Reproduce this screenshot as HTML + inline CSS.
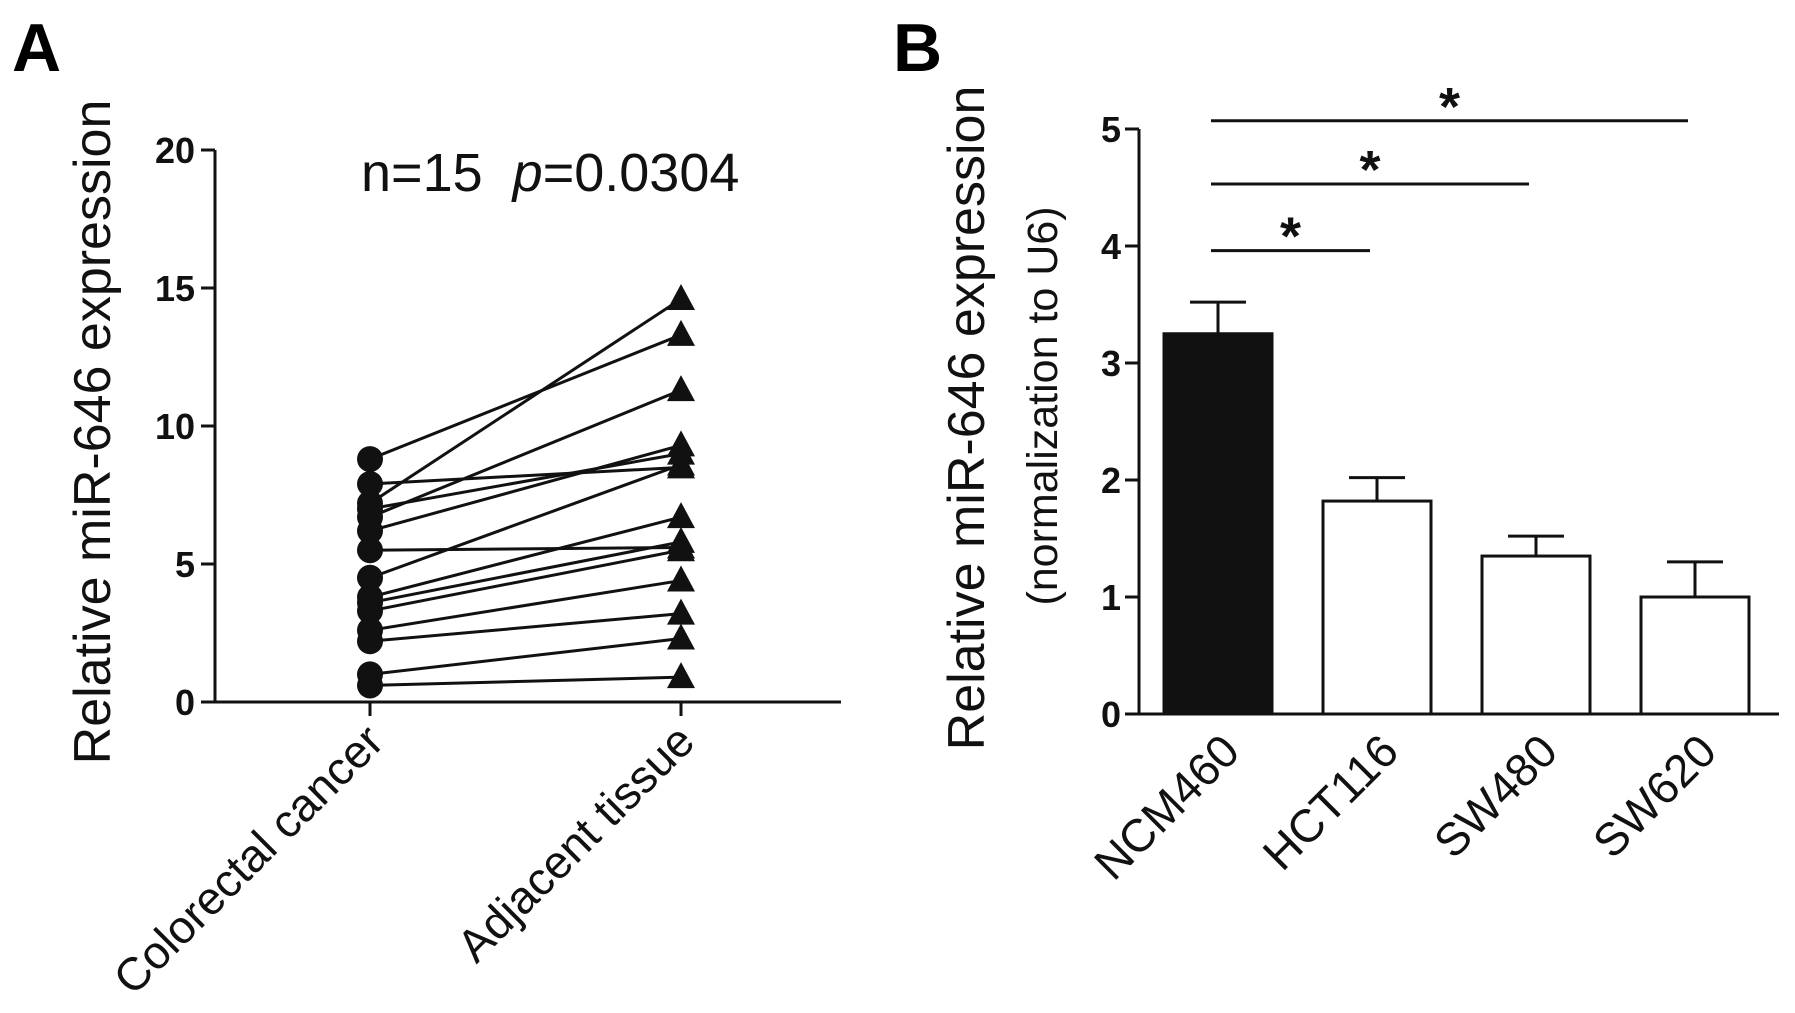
<!DOCTYPE html>
<html><head><meta charset="utf-8"><style>
html,body{margin:0;padding:0;background:#fff}
svg{display:block;font-family:"Liberation Sans",Arial,sans-serif}
</style></head><body>
<svg id="c" width="1795" height="1013" viewBox="0 0 1795 1013">
<text x="12" y="71" font-size="68" font-weight="bold">A</text>
<text x="893" y="71" font-size="68" font-weight="bold">B</text>
<g id="ga"></g>
<g id="gb"></g>
</svg>
<script>
// Panel A data
const aCategories = ["Colorectal cancer", "Adjacent tissue"];
const aCancer =   [8.8, 7.2, 7.9, 7.0, 6.7, 5.5, 6.2, 4.5, 3.8, 3.6, 3.3, 2.6, 2.2, 1.0, 0.6];
const aAdjacent = [13.3, 14.6, 8.5, 9.0, 11.3, 5.6, 9.3, 8.6, 6.7, 5.8, 5.5, 4.4, 3.2, 2.3, 0.9];
const aTicks = [0, 5, 10, 15, 20];
// Panel B data
const bCategories = ["NCM460", "HCT116", "SW480", "SW620"];
const bMeans = [3.25, 1.82, 1.35, 1.0];
const bErrors = [0.27, 0.2, 0.17, 0.3];
const bTicks = [0, 1, 2, 3, 4, 5];
const bSigTo = [1, 2, 3];
const bSigLevel = [3.96, 4.53, 5.07];

const NS = "http://www.w3.org/2000/svg";
function mk(parent, tag, attrs, text){
  const e = document.createElementNS(NS, tag);
  for (const k in attrs) e.setAttribute(k, attrs[k]);
  if (text !== undefined) e.textContent = text;
  parent.appendChild(e);
  return e;
}
const ga = document.getElementById('ga');
const gb = document.getElementById('gb');

// ---------- Panel A ----------
const aX0 = 215, aX1 = 841, aY0 = 702, aY1 = 150;
const aMax = 20;
const ay = v => aY0 - (v / aMax) * (aY0 - aY1);
const ax = i => [370, 681][i];
let e;
e = mk(ga, 'line', {x1:aX0, y1:aY1, x2:aX0, y2:aY0, stroke:'#111', 'stroke-width':3});


e = mk(ga, 'line', {x1:aX0, y1:aY0, x2:aX1, y2:aY0, stroke:'#111', 'stroke-width':3});


aTicks.forEach(t => {
  e = mk(ga, 'line', {x1:aX0 - 14, y1:ay(t), x2:aX0, y2:ay(t), stroke:'#111', 'stroke-width':3});
  
  
  e = mk(ga, 'text', {x:aX0 - 20, y:ay(t) + 13, 'font-size':36, 'font-weight':'bold', 'text-anchor':'end', fill:'#111'}, String(t));
  
  
});
aCategories.forEach((c, i) => {
  e = mk(ga, 'line', {x1:ax(i), y1:aY0, x2:ax(i), y2:aY0 + 14, stroke:'#111', 'stroke-width':3});
  
  
  e = mk(ga, 'text', {x:0, y:0, 'font-size':46, 'text-anchor':'end', fill:'#111', transform:`translate(${ax(i) + 16},${aY0 + 42}) rotate(-45)`}, c);
  
  
});
e = mk(ga, 'text', {x:0, y:0, 'font-size':52, 'text-anchor':'middle', fill:'#111', transform:`translate(110,432) rotate(-90)`}, 'Relative miR-646 expression');


e = mk(ga, 'text', {x:361, y:191, 'font-size':54, fill:'#111'});


e.innerHTML = 'n=15&#160;&#160;<tspan font-style="italic">p</tspan>=0.0304';
aCancer.forEach((v, i) => {
  e = mk(ga, 'line', {x1:ax(0), y1:ay(v), x2:ax(1), y2:ay(aAdjacent[i]), stroke:'#111', 'stroke-width':3});
  
  
});
aCancer.forEach(v => {
  e = mk(ga, 'circle', {cx:ax(0), cy:ay(v), r:13, fill:'#111'});
  
  
});
aAdjacent.forEach(v => {
  const x = ax(1), y = ay(v);
  e = mk(ga, 'polygon', {points:`${x},${y-15} ${x-14},${y+11} ${x+14},${y+11}`, fill:'#111'});
  
  
});

// ---------- Panel B ----------
const bX0 = 1139, bX1 = 1779, bY0 = 714, bY1 = 129, bMax = 5;
const by = v => bY0 - (v / bMax) * (bY0 - bY1);
const bx = i => 1218 + i * 159;
const bw = 108;
bMeans.forEach((m, i) => {
  const top = by(m + bErrors[i]);
  e = mk(gb, 'line', {x1:bx(i), y1:by(m), x2:bx(i), y2:top, stroke:'#111', 'stroke-width':3});
  
  
  e = mk(gb, 'line', {x1:bx(i) - 28, y1:top, x2:bx(i) + 28, y2:top, stroke:'#111', 'stroke-width':3});
  
  
  e = mk(gb, 'rect', {x:bx(i) - bw/2, y:by(m), width:bw, height:bY0 - by(m), fill: i === 0 ? '#111' : '#fff', stroke:'#111', 'stroke-width':3});
  
  
  e = mk(gb, 'text', {x:0, y:0, 'font-size':46, 'text-anchor':'end', fill:'#111', transform:`translate(${bx(i) + 24},${bY0 + 40}) rotate(-45)`}, bCategories[i]);
  
  
});
e = mk(gb, 'line', {x1:bX0, y1:bY1, x2:bX0, y2:bY0, stroke:'#111', 'stroke-width':3});


e = mk(gb, 'line', {x1:bX0, y1:bY0, x2:bX1, y2:bY0, stroke:'#111', 'stroke-width':3});


bTicks.forEach(t => {
  e = mk(gb, 'line', {x1:bX0 - 14, y1:by(t), x2:bX0, y2:by(t), stroke:'#111', 'stroke-width':3});
  
  
  e = mk(gb, 'text', {x:bX0 - 18, y:by(t) + 13, 'font-size':36, 'font-weight':'bold', 'text-anchor':'end', fill:'#111'}, String(t));
  
  
});
bSigTo.forEach((j, k) => {
  const y = by(bSigLevel[k]);
  const xs = bx(0) - 7, xe = bx(j) - 7;
  e = mk(gb, 'line', {x1:xs, y1:y, x2:xe, y2:y, stroke:'#111', 'stroke-width':3});
  
  
  e = mk(gb, 'text', {x:(xs + xe)/2, y:y + 4, 'font-size':54, 'font-weight':'bold', 'text-anchor':'middle', fill:'#111'}, '*');
  
  
});
e = mk(gb, 'text', {x:0, y:0, 'font-size':52, 'text-anchor':'middle', fill:'#111', transform:`translate(984,418) rotate(-90)`}, 'Relative miR-646 expression');


e = mk(gb, 'text', {x:0, y:0, 'font-size':43, 'text-anchor':'middle', fill:'#111', transform:`translate(1057,406) rotate(-90)`}, '(normalization to U6)');


</script>
</body></html>
